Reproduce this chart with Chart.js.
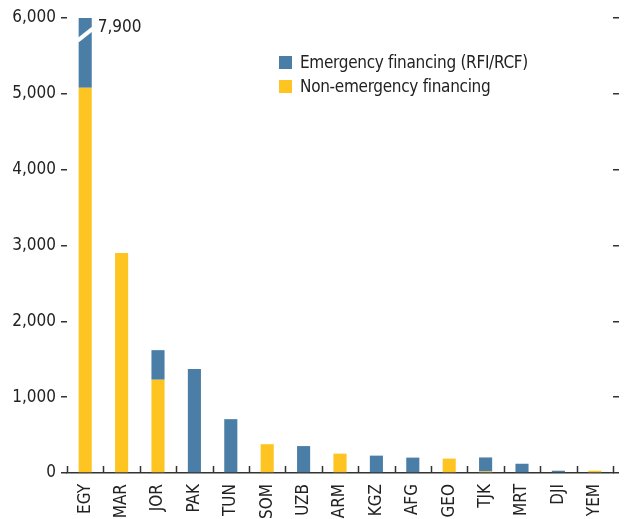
<!DOCTYPE html>
<html>
<head>
<meta charset="utf-8">
<script src="https://cdn.jsdelivr.net/npm/chart.js@4.4.1/dist/chart.umd.min.js"></script>
<style>
  html, body { margin: 0; padding: 0; background: #fff; }
  #wrap { position: relative; width: 624px; height: 519px; }
  #leyenda {
    position: absolute; left: 279px; top: 50px;
    font-family: 'DejaVu Sans Condensed', 'Liberation Sans Narrow', sans-serif;
    font-size: 17px; color: #222; line-height: 24px; letter-spacing: -0.3px;
  }
  #leyenda span.caja { display: inline-block; width: 13px; height: 13px; margin-right: 8px; vertical-align: -1px; }
</style>
</head>
<body>
<div id="wrap">
  <canvas id="myChart" width="624" height="519"></canvas>
  <div id="leyenda"></div>
</div>
<script>
// datos
const paises = ['EGY', 'MAR', 'JOR', 'PAK', 'TUN', 'SOM', 'UZB', 'ARM', 'KGZ', 'AFG', 'GEO', 'TJK', 'MRT', 'DJI', 'YEM'];
const noEmergencia = [5080, 2900, 1230, 0, 0, 380, 0, 255, 0, 0, 190, 20, 0, 0, 30];
const emergencia = [2820, 0, 390, 1370, 710, 0, 355, 0, 229, 203, 0, 185, 122, 30, 0];
const ticksY = [0, 1000, 2000, 3000, 4000, 5000, 6000];
const nombres = ['Emergency financing (RFI/RCF)', 'Non-emergency financing'];

const azul = '#4a7ea6';
const amarillo = '#fdc422';
const fuente = "'DejaVu Sans Condensed', 'Liberation Sans Narrow', sans-serif";
const corte = 5780; // donde se corta la barra de EGY

// leyenda en html
document.getElementById('leyenda').innerHTML =
    '<div><span class="caja" style="background:' + azul + '"></span>' + nombres[0] + '</div>' +
    '<div><span class="caja" style="background:' + amarillo + '"></span>' + nombres[1] + '</div>';

// plugin: corte de la barra, total y marcas del eje x hacia arriba
const cortePlugin = {
    id: 'corte',
    afterDatasetsDraw(chart) {
        const ctx = chart.ctx;
        const y = chart.scales.y;
        const x = chart.scales.x;
        const barra = chart.getDatasetMeta(1).data[0];
        const half = barra.width / 2;
        const yc = y.getPixelForValue(corte);
        ctx.save();
        ctx.strokeStyle = '#fff';
        ctx.lineWidth = 4;
        ctx.beginPath();
        ctx.moveTo(barra.x - half - 1, yc + 6);
        ctx.lineTo(barra.x + half + 1, yc - 6);
        ctx.stroke();

        const total = noEmergencia[0] + emergencia[0];
        ctx.fillStyle = '#222';
        ctx.font = '17px ' + fuente;
        ctx.textBaseline = 'middle';
        ctx.fillText(total.toLocaleString('en-US'), barra.x + half + 6, y.getPixelForValue(5880));

        // marcas entre categorias
        const paso = (x.right - x.left) / paises.length;
        const base = y.getPixelForValue(0);
        ctx.strokeStyle = '#333';
        ctx.lineWidth = 1.5;
        for (let i = 0; i <= paises.length; i++) {
            const px = Math.round(x.getPixelForValue(0) - paso / 2 + i * paso) + 0.5;
            ctx.beginPath();
            ctx.moveTo(px, base);
            ctx.lineTo(px, base - 7);
            ctx.stroke();
        }
        ctx.restore();
    }
};

const ctx = document.getElementById('myChart').getContext('2d');
const myChart = new Chart(ctx, {
    type: 'bar',
    data: {
        labels: paises,
        datasets: [
            { label: nombres[1], data: noEmergencia, backgroundColor: amarillo, barPercentage: 0.36, categoryPercentage: 1 },
            { label: nombres[0], data: emergencia, backgroundColor: azul, barPercentage: 0.36, categoryPercentage: 1 },
        ]
    },
    options: {
        responsive: false,
        animation: false,
        layout: { padding: { left: 12, right: 5, top: 18, bottom: 0 } },
        scales: {
            x: {
                stacked: true,
                afterFit: (s) => { s.height = 46; },
                grid: { display: false },
                border: { display: true, color: '#333', width: 1.5 },
                ticks: {
                    minRotation: 90, maxRotation: 90, padding: 3,
                    color: '#222', font: { family: fuente, size: 17 },
                },
            },
            y: {
                stacked: true,
                min: 0, max: 6000,
                afterFit: (s) => { s.width = 55; },
                afterBuildTicks: (s) => { s.ticks = ticksY.map(v => ({ value: v })); },
                grid: { drawOnChartArea: false, tickLength: 6, color: '#333', lineWidth: 1.5 },
                border: { display: false },
                ticks: {
                    padding: 5, color: '#222', font: { family: fuente, size: 17 },
                    callback: (v) => v.toLocaleString('en-US'),
                },
            },
            y2: {
                position: 'right',
                min: 0, max: 6000,
                afterBuildTicks: (s) => { s.ticks = ticksY.map(v => ({ value: v })); },
                grid: { drawOnChartArea: false, tickLength: 6, color: '#333', lineWidth: 1.5 },
                border: { display: false },
                ticks: { display: false },
            }
        },
        plugins: {
            legend: { display: false },
            tooltip: { enabled: false },
        }
    },
    plugins: [cortePlugin]
});
</script>
</body>
</html>
